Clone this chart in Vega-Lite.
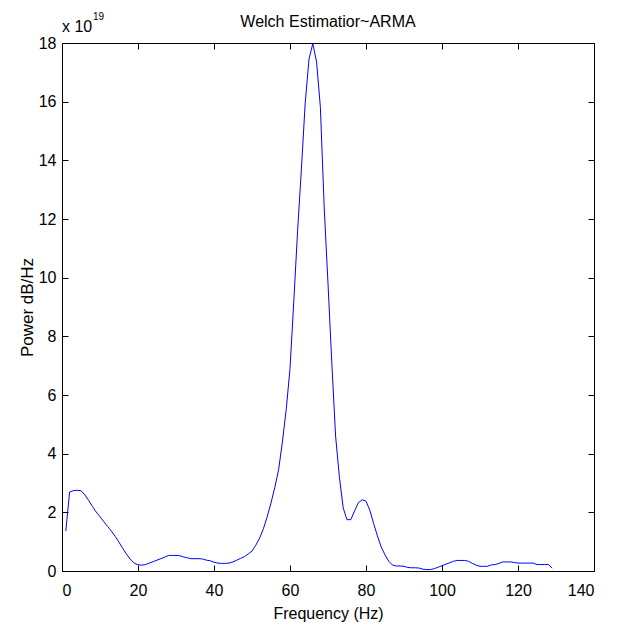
{
  "$schema": "https://vega.github.io/schema/vega-lite/v6.json",
  "width": 532,
  "height": 528,
  "autosize": {"type": "none"},
  "padding": {"left": 62, "top": 43, "right": 32, "bottom": 58},
  "background": "white",
  "config": {
    "view": {"stroke": null},
    "font": "Liberation Sans",
    "axis": {"grid": false, "domainColor": "black", "tickColor": "black", "labelColor": "black", "titleColor": "black", "labelFont": "Liberation Sans", "titleFont": "Liberation Sans", "labelFontSize": 16, "titleFontSize": 16, "titleFontWeight": "normal", "tickSize": -6, "domainWidth": 1, "tickWidth": 1}
  },
  "datasets": {
    "psd": [
      {"f":1,"p":1.36},{"f":2,"p":2.69},{"f":3,"p":2.74},{"f":4,"p":2.75},{"f":5,"p":2.74},{"f":6,"p":2.6},{"f":7,"p":2.41},{"f":8,"p":2.2},{"f":9,"p":2.01},{"f":10,"p":1.85},
      {"f":11,"p":1.68},{"f":12,"p":1.52},{"f":13,"p":1.36},{"f":14,"p":1.18},{"f":15,"p":0.98},{"f":16,"p":0.77},{"f":17,"p":0.57},{"f":18,"p":0.4},{"f":19,"p":0.27},{"f":20,"p":0.21},
      {"f":21,"p":0.2},{"f":22,"p":0.22},{"f":23,"p":0.27},{"f":24,"p":0.32},{"f":25,"p":0.37},{"f":26,"p":0.42},{"f":27,"p":0.47},{"f":28,"p":0.53},{"f":29,"p":0.53},{"f":30,"p":0.53},
      {"f":31,"p":0.52},{"f":32,"p":0.48},{"f":33,"p":0.45},{"f":34,"p":0.42},{"f":35,"p":0.42},{"f":36,"p":0.42},{"f":37,"p":0.41},{"f":38,"p":0.37},{"f":39,"p":0.35},{"f":40,"p":0.3},
      {"f":41,"p":0.27},{"f":42,"p":0.26},{"f":43,"p":0.26},{"f":44,"p":0.27},{"f":45,"p":0.31},{"f":46,"p":0.37},{"f":47,"p":0.43},{"f":48,"p":0.49},{"f":49,"p":0.58},{"f":50,"p":0.68},
      {"f":51,"p":0.88},{"f":52,"p":1.12},{"f":53,"p":1.44},{"f":54,"p":1.85},{"f":55,"p":2.32},{"f":56,"p":2.85},{"f":57,"p":3.45},{"f":58,"p":4.4},{"f":59,"p":5.5},{"f":60,"p":6.9},
      {"f":61,"p":9.2},{"f":62,"p":11.6},{"f":63,"p":13.7},{"f":64,"p":15.95},{"f":65,"p":17.45},{"f":66,"p":17.98},{"f":67,"p":17.35},{"f":68,"p":15.8},{"f":69,"p":12.4},{"f":70,"p":9.8},
      {"f":71,"p":7.1},{"f":72,"p":4.6},{"f":73,"p":3.2},{"f":74,"p":2.15},{"f":75,"p":1.75},{"f":76,"p":1.75},{"f":77,"p":2.05},{"f":78,"p":2.33},{"f":79,"p":2.43},{"f":80,"p":2.38},
      {"f":81,"p":2.07},{"f":82,"p":1.62},{"f":83,"p":1.2},{"f":84,"p":0.82},{"f":85,"p":0.55},{"f":86,"p":0.33},{"f":87,"p":0.2},{"f":88,"p":0.17},{"f":89,"p":0.17},{"f":90,"p":0.16},
      {"f":91,"p":0.12},{"f":92,"p":0.11},{"f":93,"p":0.11},{"f":94,"p":0.1},{"f":95,"p":0.06},{"f":96,"p":0.05},{"f":97,"p":0.05},{"f":98,"p":0.08},{"f":99,"p":0.13},{"f":100,"p":0.18},
      {"f":101,"p":0.23},{"f":102,"p":0.28},{"f":103,"p":0.33},{"f":104,"p":0.36},{"f":105,"p":0.36},{"f":106,"p":0.36},{"f":107,"p":0.33},{"f":108,"p":0.26},{"f":109,"p":0.2},{"f":110,"p":0.16},
      {"f":111,"p":0.16},{"f":112,"p":0.16},{"f":113,"p":0.21},{"f":114,"p":0.22},{"f":115,"p":0.26},{"f":116,"p":0.31},{"f":117,"p":0.31},{"f":118,"p":0.31},{"f":119,"p":0.29},{"f":120,"p":0.27},
      {"f":121,"p":0.27},{"f":122,"p":0.27},{"f":123,"p":0.27},{"f":124,"p":0.27},{"f":125,"p":0.22},{"f":126,"p":0.22},{"f":127,"p":0.22},{"f":128,"p":0.22},{"f":129,"p":0.1}
    ],
    "mult": [{"f": 0, "p": 18, "base": "x 10", "exp": "19"}],
    "ttl": [{"f": 70, "p": 18, "label": "Welch Estimatior~ARMA"}]
  },
  "layer": [
    {
      "data": {"name": "psd"},
      "mark": {"type": "line", "color": "#0000FF", "strokeWidth": 1, "clip": true},
      "encoding": {
        "x": {"field": "f", "type": "quantitative", "scale": {"domain": [0, 140], "nice": false}, "axis": {"title": "Frequency (Hz)", "values": [0,20,40,60,80,100,120,140], "labelPadding": 17, "titlePadding": 7, "orient": "bottom"}},
        "y": {"field": "p", "type": "quantitative", "scale": {"domain": [0, 18], "nice": false}, "axis": {"title": "Power dB/Hz", "titleFontSize": 17, "values": [0,2,4,6,8,10,12,14,16,18], "labelPadding": 12, "titlePadding": 2, "orient": "left"}}
      }
    },
    {
      "data": {"name": "psd"},
      "mark": {"type": "line", "opacity": 0},
      "encoding": {
        "x": {"field": "f", "type": "quantitative", "axis": {"title": null, "labels": false, "values": [0,20,40,60,80,100,120,140], "orient": "top"}},
        "y": {"field": "p", "type": "quantitative", "axis": {"title": null, "labels": false, "values": [0,2,4,6,8,10,12,14,16,18], "orient": "right"}}
      }
    },
    {
      "data": {"name": "mult"},
      "mark": {"type": "text", "align": "left", "baseline": "alphabetic", "dx": 0, "dy": -11, "fontSize": 16, "font": "Liberation Sans", "color": "black"},
      "encoding": {
        "x": {"field": "f", "type": "quantitative", "axis": null},
        "y": {"field": "p", "type": "quantitative", "axis": null},
        "text": {"field": "base"}
      }
    },
    {
      "data": {"name": "mult"},
      "mark": {"type": "text", "align": "left", "baseline": "alphabetic", "dx": 31, "dy": -23, "fontSize": 10, "font": "Liberation Sans", "color": "black"},
      "encoding": {
        "x": {"field": "f", "type": "quantitative", "axis": null},
        "y": {"field": "p", "type": "quantitative", "axis": null},
        "text": {"field": "exp"}
      }
    },
    {
      "data": {"name": "ttl"},
      "mark": {"type": "text", "align": "center", "baseline": "alphabetic", "dy": -16, "fontSize": 16, "font": "Liberation Sans", "color": "black"},
      "encoding": {
        "x": {"field": "f", "type": "quantitative", "axis": null},
        "y": {"field": "p", "type": "quantitative", "axis": null},
        "text": {"field": "label"}
      }
    }
  ],
  "resolve": {"axis": {"x": "independent", "y": "independent"}}
}
